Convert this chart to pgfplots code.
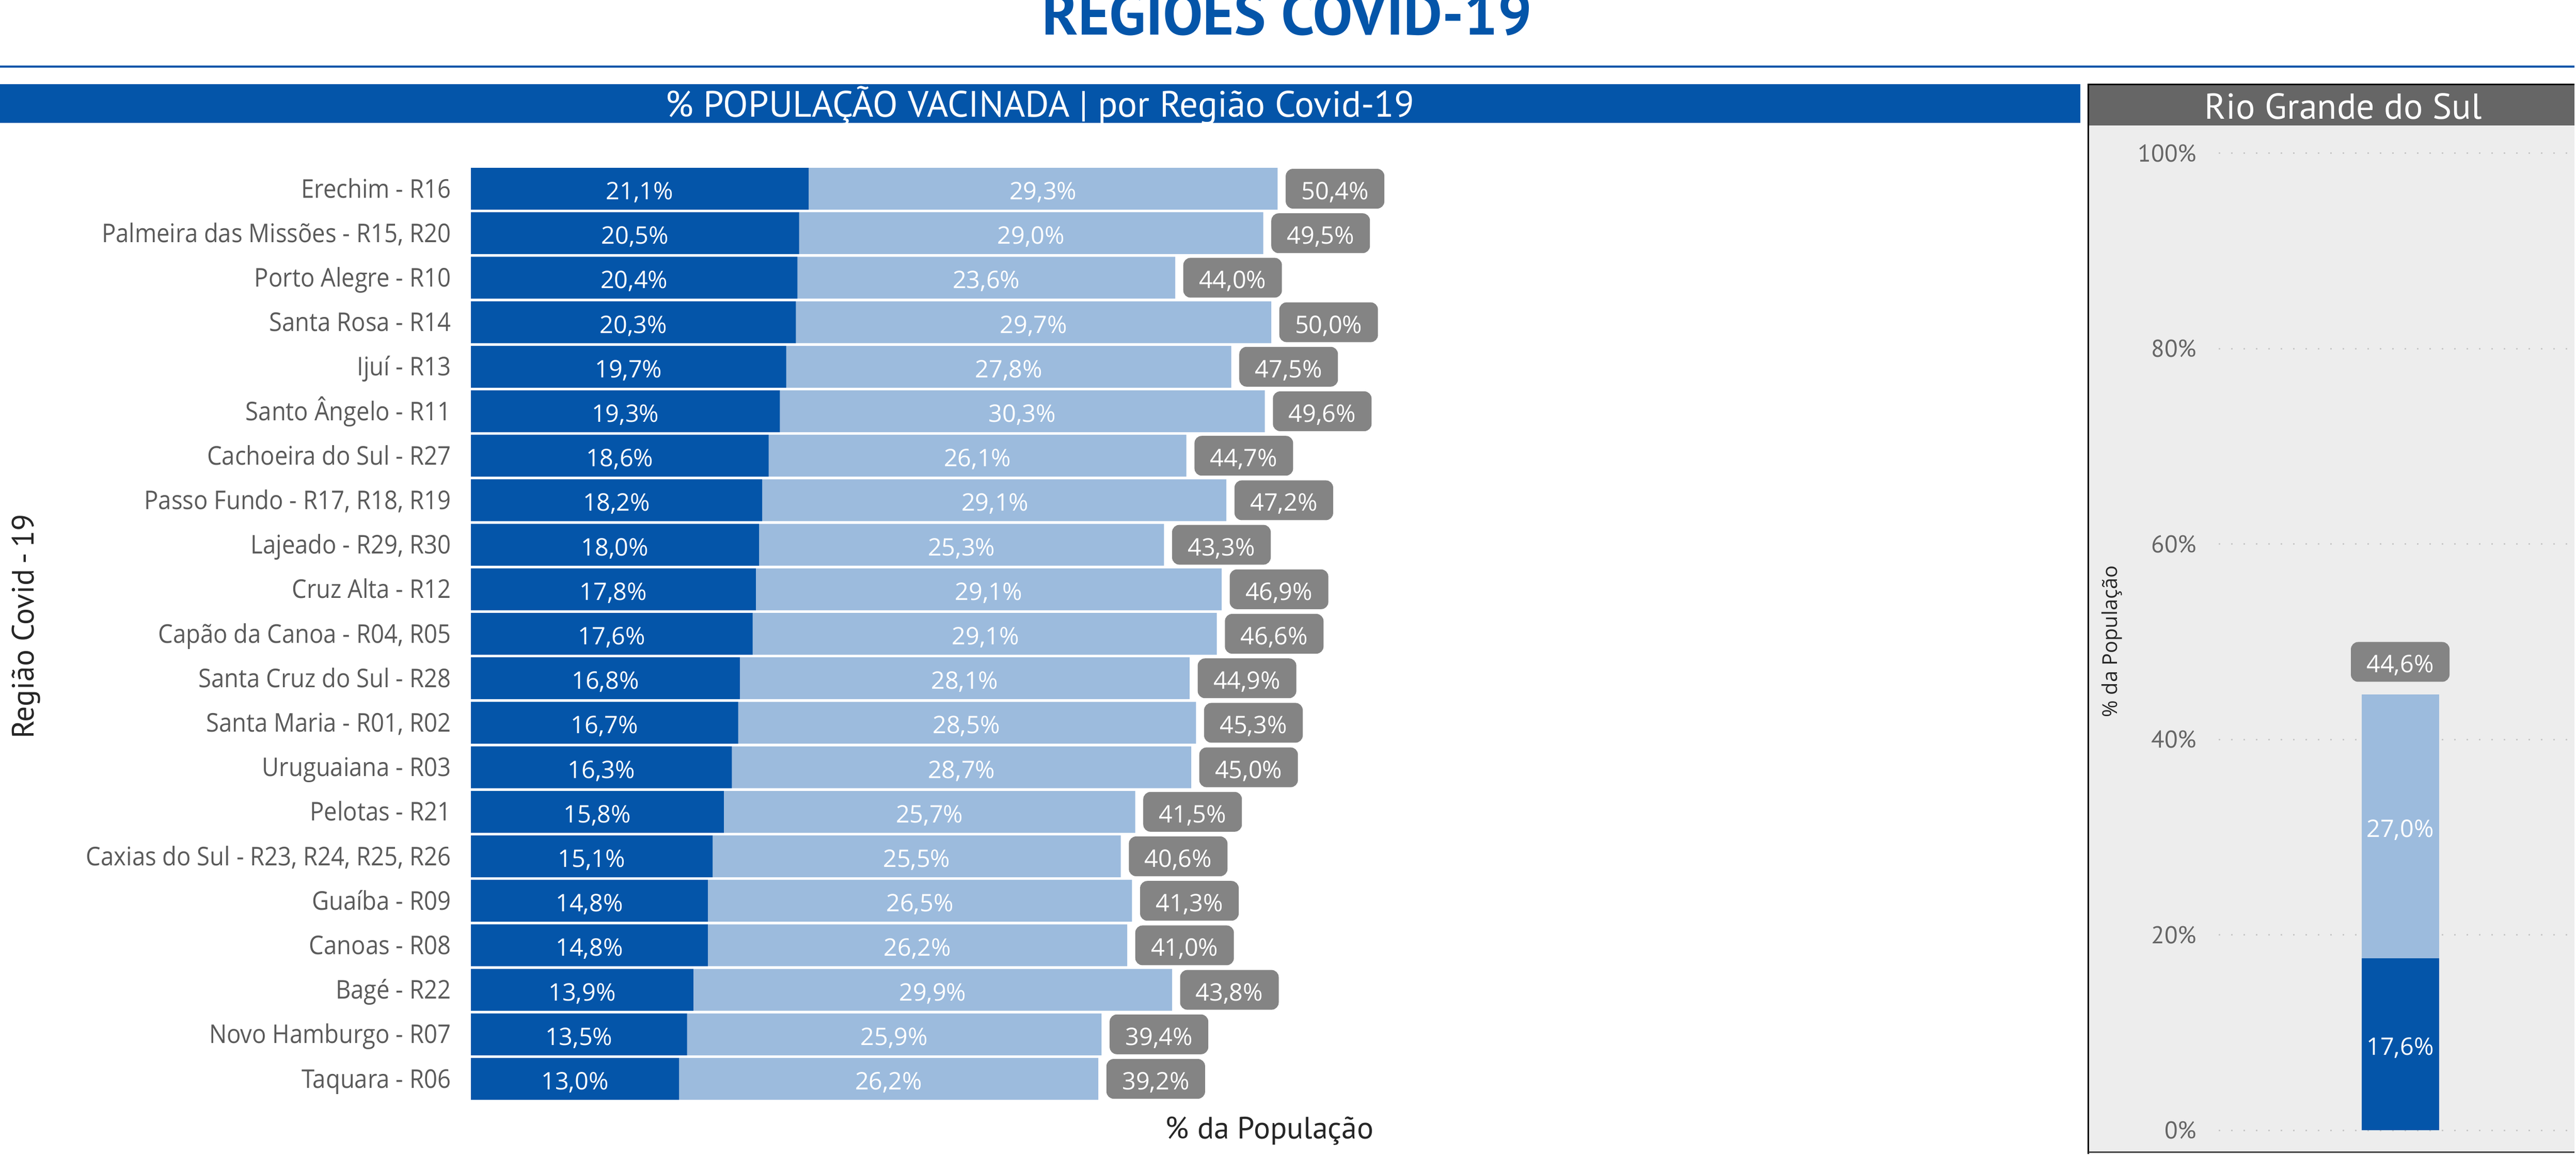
\documentclass[border=0pt]{standalone}
\usepackage{fontspec}
\setmainfont{Open Sans}
\newfontfamily\din{PT Sans}
\newfontfamily\segn{Open Sans}[FakeStretch=0.91]
\usepackage{pgfplots}
\usepackage{pgfplotstable}
\pgfplotsset{compat=1.18}

\definecolor{rsblue}{RGB}{4,85,169}
\definecolor{rslight}{RGB}{156,187,221}
\definecolor{boxgray}{RGB}{132,132,132}
\definecolor{labgray}{RGB}{90,90,90}
\definecolor{headgray}{RGB}{102,102,102}
\definecolor{panelbg}{RGB}{237,237,237}
\definecolor{dotgray}{RGB}{200,200,200}
\definecolor{tickgray}{RGB}{102,102,102}

\newcommand\fs[1]{\fontsize{#1}{#1}\selectfont}
\pgfkeys{/pgf/number format/assume math mode=true}

% d = parcela escura, l = parcela clara, t = total
\pgfplotstableread{
y d l t
0 21.1 29.3 50.4
1 20.5 29.0 49.5
2 20.4 23.6 44.0
3 20.3 29.7 50.0
4 19.7 27.8 47.5
5 19.3 30.3 49.6
6 18.6 26.1 44.7
7 18.2 29.1 47.2
8 18.0 25.3 43.3
9 17.8 29.1 46.9
10 17.6 29.1 46.6
11 16.8 28.1 44.9
12 16.7 28.5 45.3
13 16.3 28.7 45.0
14 15.8 25.7 41.5
15 15.1 25.5 40.6
16 14.8 26.5 41.3
17 14.8 26.2 41.0
18 13.9 29.9 43.8
19 13.5 25.9 39.4
20 13.0 26.2 39.2
}\regioes

\pgfplotsset{
  pct/.style={nodes near coords={\pgfmathprintnumber[fixed,fixed zerofill,precision=1,use comma]{\pgfplotspointmeta}\%}},
  inlab/.style={only marks, mark=none, point meta=explicit, pct,
    nodes near coords style={font=\fs{13.3}, color=white, anchor=base, inner sep=0pt, yshift=-0.21cm}},
  boxlab/.style={only marks, mark=none, point meta=explicit, pct,
    nodes near coords style={font=\fs{13.3}, color=white, fill=boxgray, rounded corners=0.14cm,
      inner sep=0pt, minimum width=1.91cm, minimum height=0.77cm, text height=0.42cm, text depth=0cm}},
}

\begin{document}
\begin{tikzpicture}
\begin{scope}[shift={(0cm,22.36cm)}, x=0.01cm, y=-0.01cm]
  % titulo e faixas
  \node[anchor=base, font=\din\bfseries\fs{33}, color=rsblue, inner sep=0pt] at (2494,68) {REGIÕES COVID-19};
  \fill[rsblue] (0,127) rectangle (4989,131);
  \fill[rsblue] (0,163) rectangle (4031,238);
  \node[anchor=base, font=\din\fs{20.2}, color=white, inner sep=0pt] at (2015,227) {\% POPULAÇÃO VACINADA | por Região Covid-19};
  % painel RS
  \fill[panelbg] (4047,164) rectangle (4989,2234);
  \fill[headgray] (4047,164) rectangle (4989,243);
  \draw[black, line width=0.03cm] (4047,2236) -- (4047,164) -- (4989,164);
  \draw[headgray!70!black, line width=0.025cm] (4047,2233) -- (4989,2233);
  \node[anchor=base, font=\din\fs{19.9}, color=white, inner sep=0pt] at (4541,231) {Rio Grande do Sul};
  % titulos dos eixos
  \node[anchor=base, font=\din\fs{17}, color=black!85, inner sep=0pt] at (2460,2207) {\% da População};
  \node[anchor=base, rotate=90, font=\din\fs{17}, color=black!85, inner sep=0pt] at (66,1214) {Região Covid\,-\,19};
  \node[anchor=base, rotate=90, font=\fs{11.3}, color=black!85, inner sep=0pt] at (4103,1243) {\% da População};
\end{scope}

\begin{axis}[
  at={(9.12cm,1.034cm)}, anchor=south west,
  scale only axis, width=15.5cm, height=18.102cm,
  xmin=0, xmax=50, ymin=-0.5, ymax=20.5, y dir=reverse,
  axis line style={draw=none}, tick style={draw=none}, major tick length=0pt,
  xtick=\empty, ytick={0,...,20},
  yticklabels={Erechim - R16, {Palmeira das Missões - R15, R20}, Porto Alegre - R10, Santa Rosa - R14,
    Ijuí - R13, Santo Ângelo - R11, Cachoeira do Sul - R27, {Passo Fundo - R17, R18, R19},
    {Lajeado - R29, R30}, Cruz Alta - R12, {Capão da Canoa - R04, R05}, Santa Cruz do Sul - R28,
    {Santa Maria - R01, R02}, Uruguaiana - R03, Pelotas - R21, {Caxias do Sul - R23, R24, R25, R26},
    Guaíba - R09, Canoas - R08, Bagé - R22, Novo Hamburgo - R07, Taquara - R06},
  yticklabel style={font=\segn\fs{14.2}, color=labgray, anchor=base east, inner sep=0pt, xshift=-0.38cm, yshift=-0.175cm},
  clip=false,
]
  \addplot[xbar, bar width=0.81cm, bar shift=0pt, fill=rslight, draw=none] table[x=t, y=y] {\regioes};
  \addplot[xbar, bar width=0.81cm, bar shift=0pt, fill=rsblue, draw=none] table[x=d, y=y] {\regioes};
  \addplot[inlab] table[x expr=\thisrow{d}/2, y=y, meta=d] {\regioes};
  \addplot[inlab] table[x expr=\thisrow{d}+\thisrow{l}/2, y=y, meta=l] {\regioes};
  \addplot[boxlab, nodes near coords style={anchor=west, xshift=0.15cm}] table[x=t, y=y, meta=t] {\regioes};
\end{axis}

\begin{axis}[
  at={(42.97cm,0.47cm)}, anchor=south west,
  scale only axis, width=7.03cm, height=18.92cm,
  xmin=-1, xmax=1, ymin=0, ymax=100,
  axis line style={draw=none}, tick style={draw=none}, major tick length=0pt,
  xtick=\empty, ytick={0,20,40,60,80,100},
  yticklabels={0\%,20\%,40\%,60\%,80\%,100\%},
  yticklabel style={font=\din\fs{13.4}, color=tickgray, anchor=east, inner sep=0pt, xshift=-0.42cm},
  ymajorgrids, grid style={dotgray, line width=0.03cm, dash pattern=on 0.03cm off 0.21cm},
  clip=false,
]
  \addplot[ybar, bar width=1.5cm, bar shift=0pt, fill=rslight, draw=none] coordinates {(0,44.6)};
  \addplot[ybar, bar width=1.5cm, bar shift=0pt, fill=rsblue, draw=none] coordinates {(0,17.6)};
  \addplot[inlab] coordinates {(0,8.8) [17.6]};
  \addplot[inlab] coordinates {(0,31.1) [27.0]};
  \addplot[boxlab, nodes near coords style={anchor=south, yshift=0.24cm}] coordinates {(0,44.6) [44.6]};
\end{axis}

\pgfresetboundingbox
\path[use as bounding box] (0,0) rectangle (49.89,22.36);
\end{tikzpicture}
\end{document}
